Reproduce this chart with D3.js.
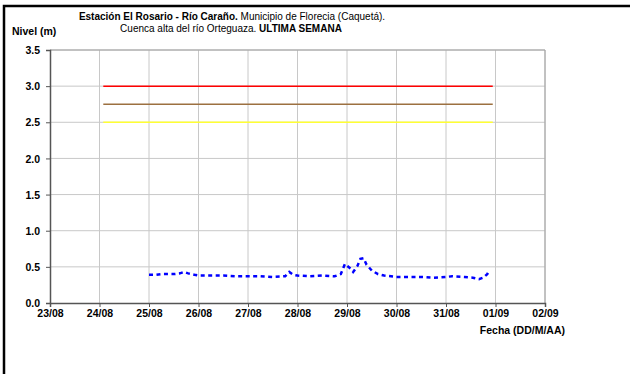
<!DOCTYPE html>
<html>
<head>
<meta charset="utf-8">
<script src="https://cdn.jsdelivr.net/npm/d3@7"></script>
<style>
  body { margin: 0; background: #fff; }
  svg { display: block; font-family: "Liberation Sans", Arial, sans-serif; }
</style>
</head>
<body>
<div id="chart"></div>
<script>
// Level readings (time, metres)
const times = [
  '2010-08-25T00:00', '2010-08-25T03:00', '2010-08-25T06:00', '2010-08-25T09:00',
  '2010-08-25T12:00', '2010-08-25T15:00', '2010-08-25T17:00', '2010-08-25T19:00',
  '2010-08-25T22:00', '2010-08-26T00:00', '2010-08-26T06:00', '2010-08-26T12:00',
  '2010-08-26T18:00', '2010-08-27T00:00', '2010-08-27T06:00', '2010-08-27T12:00',
  '2010-08-27T18:00', '2010-08-27T20:00', '2010-08-27T22:00', '2010-08-28T00:00',
  '2010-08-28T06:00', '2010-08-28T12:00', '2010-08-28T18:00', '2010-08-28T21:00',
  '2010-08-28T23:00', '2010-08-29T02:00', '2010-08-29T03:00', '2010-08-29T05:00',
  '2010-08-29T06:30', '2010-08-29T08:00', '2010-08-29T09:30', '2010-08-29T12:00',
  '2010-08-29T15:00', '2010-08-29T18:00', '2010-08-30T00:00', '2010-08-30T06:00',
  '2010-08-30T12:00', '2010-08-30T18:00', '2010-08-31T00:00', '2010-08-31T03:00',
  '2010-08-31T09:00', '2010-08-31T13:00', '2010-08-31T16:00', '2010-08-31T18:00',
  '2010-08-31T20:00', '2010-08-31T21:00'
];
const levels = [
  0.39, 0.39, 0.40, 0.40,
  0.40, 0.41, 0.43, 0.41,
  0.39, 0.38, 0.38, 0.38,
  0.37, 0.37, 0.37, 0.36,
  0.37, 0.43, 0.39, 0.38,
  0.37, 0.38, 0.37, 0.40,
  0.54, 0.47, 0.43, 0.51,
  0.61, 0.62, 0.53, 0.45,
  0.40, 0.38, 0.36, 0.36,
  0.36, 0.35, 0.36, 0.37,
  0.36, 0.35, 0.33, 0.35,
  0.40, 0.45
];

// Alert thresholds
const thresholdLevels = [3.0, 2.75, 2.5];
const thresholdColors = ['#ff0000', '#9c7040', '#ffff33'];
const thresholdSpan = ['2010-08-24T01:50', '2010-08-31T22:40'];

const xTickDates = ['2010-08-23', '2010-08-24', '2010-08-25', '2010-08-26', '2010-08-27',
  '2010-08-28', '2010-08-29', '2010-08-30', '2010-08-31', '2010-09-01', '2010-09-02'];
const yTicks = [0, 0.5, 1.0, 1.5, 2.0, 2.5, 3.0, 3.5];

const W = 630, H = 374;
const M = { left: 50, right: 545, top: 50, bottom: 303 };

const parse = d3.timeParse('%Y-%m-%dT%H:%M');
const parseDay = d3.timeParse('%Y-%m-%d');

const svg = d3.select('#chart').append('svg')
  .attr('width', W)
  .attr('height', H);

// outer frame (only left/top visible)
svg.append('rect')
  .attr('x', 4).attr('y', 6)
  .attr('width', W + 20).attr('height', H + 20)
  .attr('fill', 'none')
  .attr('stroke', '#000')
  .attr('stroke-width', 2.5);

const x = d3.scaleTime()
  .domain([parseDay(xTickDates[0]), parseDay(xTickDates[xTickDates.length - 1])])
  .range([M.left, M.right]);
const y = d3.scaleLinear()
  .domain([0, 3.5])
  .range([M.bottom, M.top]);

// grid
svg.append('g')
  .selectAll('line')
  .data(xTickDates.slice(1))
  .join('line')
  .attr('x1', d => x(parseDay(d))).attr('x2', d => x(parseDay(d)))
  .attr('y1', M.top).attr('y2', M.bottom)
  .attr('stroke', '#c8c8c8').attr('stroke-width', 1);
svg.append('g')
  .selectAll('line')
  .data(yTicks.slice(1))
  .join('line')
  .attr('x1', M.left).attr('x2', M.right)
  .attr('y1', d => y(d)).attr('y2', d => y(d))
  .attr('stroke', '#c8c8c8').attr('stroke-width', 1);

// plot frame top/right
svg.append('path')
  .attr('d', `M${M.left},${M.top}H${M.right}V${M.bottom}`)
  .attr('fill', 'none')
  .attr('stroke', '#a0a0a0')
  .attr('stroke-width', 1);

// thresholds
svg.append('g')
  .selectAll('line')
  .data(thresholdLevels)
  .join('line')
  .attr('x1', x(parse(thresholdSpan[0])))
  .attr('x2', x(parse(thresholdSpan[1])))
  .attr('y1', d => y(d)).attr('y2', d => y(d))
  .attr('stroke', (d, i) => thresholdColors[i])
  .attr('stroke-width', 1.5);

// level series
const series = times.map((t, i) => ({ t: parse(t), v: levels[i] }));
svg.append('path')
  .datum(series)
  .attr('d', d3.line().x(d => x(d.t)).y(d => y(d.v)))
  .attr('fill', 'none')
  .attr('stroke', '#0000ff')
  .attr('stroke-width', 2.5)
  .attr('stroke-dasharray', '4,3.5');

// axes
const xAxis = d3.axisBottom(x)
  .tickValues(xTickDates.map(parseDay))
  .tickFormat(d3.timeFormat('%d/%m'))
  .tickSize(4)
  .tickPadding(3);
const yAxis = d3.axisLeft(y)
  .tickValues(yTicks)
  .tickFormat(d3.format('.1f'))
  .tickSize(4)
  .tickPadding(6);

const gx = svg.append('g')
  .attr('transform', `translate(0,${M.bottom})`)
  .call(xAxis);
const gy = svg.append('g')
  .attr('transform', `translate(${M.left},0)`)
  .call(yAxis);
[gx, gy].forEach(g => {
  g.select('.domain').attr('stroke', '#555').attr('stroke-width', 1.5);
  g.selectAll('.tick line').attr('stroke', '#555');
  g.selectAll('.tick text')
    .attr('fill', '#000')
    .style('font-size', '10.5px')
    .style('font-weight', 'bold')
    .style('font-family', '"Liberation Sans", Arial, sans-serif');
});
gy.selectAll('.tick text').attr('dy', '0.35em');

// titles
const title1 = svg.append('text')
  .attr('x', 232).attr('y', 20)
  .attr('text-anchor', 'middle')
  .style('font-size', '10px');
title1.append('tspan').style('font-weight', 'bold').text('Estación El Rosario - Río Caraño.');
title1.append('tspan').text(' Municipio de Florecia (Caquetá).');

const title2 = svg.append('text')
  .attr('x', 231).attr('y', 32)
  .attr('text-anchor', 'middle')
  .style('font-size', '10px');
title2.append('tspan').text('Cuenca alta del río Orteguaza. ');
title2.append('tspan').style('font-weight', 'bold').text('ULTIMA SEMANA');

svg.append('text')
  .attr('x', 12).attr('y', 35)
  .style('font-size', '10.5px')
  .style('font-weight', 'bold')
  .text('Nivel (m)');

svg.append('text')
  .attr('x', 565).attr('y', 334)
  .attr('text-anchor', 'end')
  .style('font-size', '10.5px')
  .style('font-weight', 'bold')
  .text('Fecha (DD/M/AA)');
</script>
</body>
</html>
